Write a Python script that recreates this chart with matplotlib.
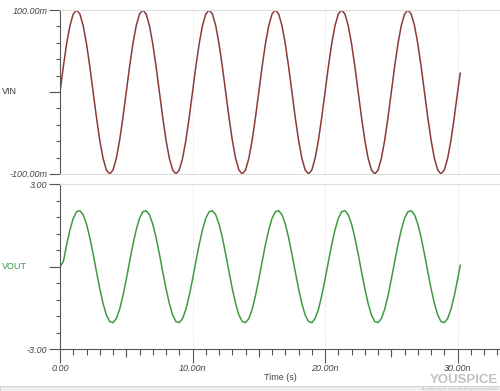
import numpy as np
import matplotlib
matplotlib.use("Agg")
import matplotlib.pyplot as plt
from matplotlib.ticker import MultipleLocator, FixedLocator
from matplotlib.patches import Rectangle

plt.rcParams['font.family'] = ['Liberation Sans', 'DejaVu Sans']

# sample grid (ns)
time_ns = list(np.arange(0, 30.001, 0.25)) + [30.2]

# VIN (mV)
vin_mv = [0,
    30.9, 58.8, 80.9, 95.1, 100, 95.1, 80.9, 58.8, 30.9, 0, -30.9, -58.8, -80.9, -95.1, -100, -95.1, -80.9, -58.8, -30.9,
    0, 30.9, 58.8, 80.9, 95.1, 100, 95.1, 80.9, 58.8, 30.9, 0, -30.9, -58.8, -80.9, -95.1, -100, -95.1, -80.9, -58.8, -30.9,
    0, 30.9, 58.8, 80.9, 95.1, 100, 95.1, 80.9, 58.8, 30.9, 0, -30.9, -58.8, -80.9, -95.1, -100, -95.1, -80.9, -58.8, -30.9,
    0, 30.9, 58.8, 80.9, 95.1, 100, 95.1, 80.9, 58.8, 30.9, 0, -30.9, -58.8, -80.9, -95.1, -100, -95.1, -80.9, -58.8, -30.9,
    0, 30.9, 58.8, 80.9, 95.1, 100, 95.1, 80.9, 58.8, 30.9, 0, -30.9, -58.8, -80.9, -95.1, -100, -95.1, -80.9, -58.8, -30.9,
    0, 30.9, 58.8, 80.9, 95.1, 100, 95.1, 80.9, 58.8, 30.9, 0, -30.9, -58.8, -80.9, -95.1, -100, -95.1, -80.9, -58.8, -30.9,
    0, 23]

# VOUT (V)
vout_v = [0,
    0.18, 0.80, 1.34, 1.76, 2.00, 2.04, 1.89, 1.55, 1.06, 0.46, -0.18, -0.80, -1.34, -1.76, -2.00, -2.04, -1.89, -1.55, -1.06, -0.46,
    0.18, 0.80, 1.34, 1.76, 2.00, 2.04, 1.89, 1.55, 1.06, 0.46, -0.18, -0.80, -1.34, -1.76, -2.00, -2.04, -1.89, -1.55, -1.06, -0.46,
    0.18, 0.80, 1.34, 1.76, 2.00, 2.04, 1.89, 1.55, 1.06, 0.46, -0.18, -0.80, -1.34, -1.76, -2.00, -2.04, -1.89, -1.55, -1.06, -0.46,
    0.18, 0.80, 1.34, 1.76, 2.00, 2.04, 1.89, 1.55, 1.06, 0.46, -0.18, -0.80, -1.34, -1.76, -2.00, -2.04, -1.89, -1.55, -1.06, -0.46,
    0.18, 0.80, 1.34, 1.76, 2.00, 2.04, 1.89, 1.55, 1.06, 0.46, -0.18, -0.80, -1.34, -1.76, -2.00, -2.04, -1.89, -1.55, -1.06, -0.46,
    0.18, 0.80, 1.34, 1.76, 2.00, 2.04, 1.89, 1.55, 1.06, 0.46, -0.18, -0.80, -1.34, -1.76, -2.00, -2.04, -1.89, -1.55, -1.06, -0.46,
    0.05]

x_ticks = [0, 10, 20, 30]
x_labels = ["0.00", "10.00n", "20.00n", "30.00n"]

fig = plt.figure(figsize=(5.0, 3.91), dpi=100)
ax1 = fig.add_axes([0.12, 0.555, 0.88, 0.4194])
ax2 = fig.add_axes([0.12, 0.1074, 0.88, 0.4212])

axis_col = '#555555'
light = '#dddddd'
lab_col = '#444444'

for ax in (ax1, ax2):
    ax.set_xlim(0, 33.2)
    for s in ('top', 'bottom'):
        ax.spines[s].set_color(light)
        ax.spines[s].set_linewidth(0.8)
    ax.spines['right'].set_visible(False)
    ax.spines['left'].set_color(axis_col)
    ax.spines['left'].set_linewidth(0.8)
    for xv in [10, 20, 30]:
        ax.axvline(xv, color='#cccccc', lw=0.6, ls=(0, (1, 2)), zorder=0)

ax1.plot(time_ns, vin_mv, color='#8b3a3a', lw=1.1)
ax2.plot(time_ns, vout_v, color='#3f9a3f', lw=1.1)

ax1.set_ylim(-100, 100)
ax2.set_ylim(-3, 3)

ax1.yaxis.set_major_locator(FixedLocator([-100, 0, 100]))
ax1.yaxis.set_minor_locator(MultipleLocator(20))
ax1.set_yticklabels(["-100.00m", "", "100.00m"])
ax2.yaxis.set_major_locator(FixedLocator([-3, 0, 3]))
ax2.yaxis.set_minor_locator(MultipleLocator(0.6))
ax2.set_yticklabels(["-3.00", "", "3.00"])

for ax in (ax1, ax2):
    ax.tick_params(axis='y', which='major', length=8, width=0.8, color=axis_col,
                   labelsize=6.5, labelcolor=lab_col, pad=1)
    ax.tick_params(axis='y', which='minor', length=3, width=0.8, color=axis_col)
    for t in ax.get_yticklabels():
        t.set_fontstyle('italic')

ax1.tick_params(axis='x', which='both', bottom=False, labelbottom=False)

ax2.spines['bottom'].set_color(axis_col)
ax2.set_xticks(x_ticks)
ax2.set_xticklabels(x_labels)
ax2.xaxis.set_minor_locator(MultipleLocator(1))
ax2.tick_params(axis='x', which='major', length=10, width=0.8, color=axis_col,
                labelsize=6.5, labelcolor=lab_col, pad=1)
ax2.tick_params(axis='x', which='minor', length=4, width=0.8, color=axis_col)
for t in ax2.get_xticklabels():
    t.set_fontstyle('italic')
sec = ax2.secondary_xaxis('bottom')
sec.set_xticks([5, 15, 25])
sec.tick_params(axis='x', length=6, width=0.8, color=axis_col, labelbottom=False)
sec.spines['bottom'].set_visible(False)

ax2.set_xlabel("Time (s)", fontsize=6.5, color=lab_col, labelpad=0)

fig.text(0.004, 0.767, "VIN", fontsize=6.5, color='#333333', va='center', ha='left')
fig.text(0.004, 0.318, "VOUT", fontsize=6.5, color='#3f9a3f', va='center', ha='left')

# bottom status band
fig.patches.append(Rectangle((0, 0), 1, 0.014, transform=fig.transFigure,
                             facecolor='#eeeeee', edgecolor='#cccccc', lw=0.6))

# watermark
fig.text(0.995, 0.027, "YOUSPICE", fontsize=9.5, color='#b5b5b5', fontweight='bold',
         ha='right', va='center', alpha=0.85)
fig.text(0.995, 0.005, "A community for electronic design and simulation", fontsize=2.5,
         color='#bbbbbb', ha='right', va='center')

fig.savefig("out.png", dpi=100)
